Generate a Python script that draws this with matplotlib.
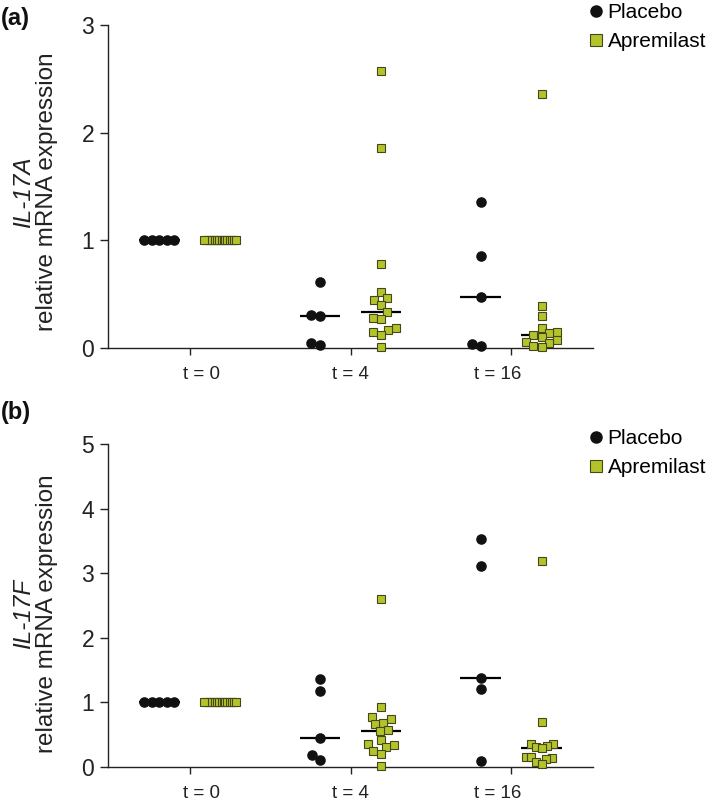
import numpy as np
import matplotlib
matplotlib.use('Agg')
import matplotlib.pyplot as plt
import matplotlib.transforms as mtransforms
from matplotlib.lines import Line2D

plt.rcParams['font.family'] = ['Liberation Sans', 'DejaVu Sans']

groups = ['t = 0', 't = 4', 't = 16']
series = ['Placebo', 'Apremilast']

# Panel (a): IL-17A
a_placebo_t0 = [1.00, 1.00, 1.00, 1.00, 1.00]
a_placebo_t4 = [0.61, 0.31, 0.30, 0.05, 0.03]
a_placebo_t16 = [1.36, 0.85, 0.47, 0.04, 0.02]
a_aprem_t0 = [1.00, 1.00, 1.00, 1.00, 1.00, 1.00, 1.00, 1.00, 1.00, 1.00,
              1.00, 1.00, 1.00, 1.00, 1.00]
a_aprem_t4 = [2.57, 1.86, 0.78, 0.52, 0.46, 0.45, 0.40, 0.33, 0.28, 0.27,
              0.19, 0.17, 0.15, 0.12, 0.01]
a_aprem_t16 = [2.36, 0.39, 0.30, 0.19, 0.15, 0.14, 0.12, 0.10, 0.07, 0.06,
               0.05, 0.02, 0.01]

# Panel (b): IL-17F
b_placebo_t0 = [1.00, 1.00, 1.00, 1.00, 1.00]
b_placebo_t4 = [1.36, 1.17, 0.45, 0.18, 0.11]
b_placebo_t16 = [3.53, 3.11, 1.38, 1.21, 0.10]
b_aprem_t0 = [1.00, 1.00, 1.00, 1.00, 1.00, 1.00, 1.00, 1.00, 1.00, 1.00,
              1.00, 1.00, 1.00, 1.00, 1.00]
b_aprem_t4 = [2.60, 0.93, 0.78, 0.74, 0.68, 0.66, 0.57, 0.55, 0.42, 0.35,
              0.34, 0.31, 0.25, 0.20, 0.02]
b_aprem_t16 = [3.19, 0.69, 0.36, 0.36, 0.33, 0.31, 0.30, 0.16, 0.15, 0.14,
               0.12, 0.08, 0.05]

a_ticks = [0, 1, 2, 3]
b_ticks = [0, 1, 2, 3, 4, 5]

W, H = 709, 810
fig = plt.figure(figsize=(W / 100, H / 100), dpi=100)

GREEN = '#b2c42a'
EDGE = '#46461c'
LABEL_SHIFT_PX = [12, 0, -13]


def px_box(x0, y_top, x1, y_bot):
    return [x0 / W, 1 - y_bot / H, (x1 - x0) / W, (y_bot - y_top) / H]


def swarm(ax, xc, vals, d_px, max_half_px):
    vals = np.asarray(vals, float)
    pts = ax.transData.transform(np.column_stack([np.full(len(vals), xc), vals]))
    ypx = pts[:, 1]
    order = np.argsort(ypx, kind='stable')
    placed = []
    offs = np.zeros(len(vals))
    for i in order:
        y = ypx[i]
        cands = [0.0]
        for xo, yo in placed:
            dy = y - yo
            if abs(dy) < d_px:
                dx = np.sqrt(d_px ** 2 - dy ** 2)
                cands += [xo + dx, xo - dx]
        cands.sort(key=lambda c: (abs(c), c))
        for c in cands:
            if all((c - xo) ** 2 + (y - yo) ** 2 >= d_px ** 2 - 1e-6 for xo, yo in placed):
                offs[i] = c
                break
        placed.append((offs[i], y))
    m = np.max(np.abs(offs))
    if m > max_half_px:
        offs *= max_half_px / m
    pxu = ax.transData.transform((1, 0))[0] - ax.transData.transform((0, 0))[0]
    return xc + offs / pxu


def panel(box, placebo, aprem, ymax, ticks, gene, label, ylab_y, leg_y, lab_y):
    ax = fig.add_axes(box)
    ax.set_xlim(-0.51, 2.51)
    ax.set_ylim(0, ymax)
    for s in ['top', 'right']:
        ax.spines[s].set_visible(False)
    for s in ['left', 'bottom']:
        ax.spines[s].set_linewidth(1.0)
        ax.spines[s].set_color('#222222')
    ax.set_yticks(ticks)
    ax.set_yticklabels([str(t) for t in ticks])
    ax.set_xticks(range(len(groups)))
    ax.set_xticklabels(groups)
    ax.tick_params(axis='y', length=6, width=1.0, labelsize=16.5, pad=4, colors='#222222')
    ax.tick_params(axis='x', length=5, width=1.0, labelsize=13.5, pad=8, colors='#222222')
    for lbl, sh in zip(ax.get_xticklabels(), LABEL_SHIFT_PX):
        lbl.set_transform(lbl.get_transform() +
                          mtransforms.ScaledTranslation(sh / 100, 0, fig.dpi_scale_trans))
    off = 0.19
    half = 0.127
    for gi in range(len(groups)):
        pv = placebo[gi]
        av = aprem[gi]
        xp = swarm(ax, gi - off, pv, 9.0, 15.0)
        xa = swarm(ax, gi + off, av, 8.5, 16.0)
        ax.hlines(np.median(pv), gi - off - half, gi - off + half, color='black', lw=1.6, zorder=2)
        ax.hlines(np.median(av), gi + off - half, gi + off + half, color='black', lw=1.6, zorder=2)
        ax.plot(xp, pv, 'o', ms=6.6, color='#111111', mec='#111111', ls='none', clip_on=False, zorder=3)
        ax.plot(xa, av, 's', ms=6.0, mfc=GREEN, mec=EDGE, mew=0.8, ls='none', clip_on=False, zorder=3)
    # y labels
    fig.text(24 / W, 1 - ylab_y / H, gene, rotation=90, ha='center', va='center',
             fontsize=17.5, style='italic', color='#222222')
    fig.text(47 / W, 1 - ylab_y / H, 'relative mRNA expression', rotation=90, ha='center',
             va='center', fontsize=17.5, color='#222222')
    fig.text(1 / W, 1 - lab_y / H, label, ha='left', va='center', fontsize=17,
             fontweight='bold', color='#111111')
    handles = [Line2D([], [], marker='o', ls='none', color='#111111', ms=8),
               Line2D([], [], marker='s', ls='none', mfc=GREEN, mec=EDGE, mew=0.8, ms=9)]
    ax.legend(handles, series, loc='upper left', bbox_to_anchor=(590 / W, 1 - (leg_y - 10) / H),
              bbox_transform=fig.transFigure, frameon=False, fontsize=15, handlelength=0.6,
              handletextpad=0.25, borderpad=0, borderaxespad=0, labelspacing=0.5)
    return ax


panel(px_box(108, 25, 593, 348),
      [a_placebo_t0, a_placebo_t4, a_placebo_t16],
      [a_aprem_t0, a_aprem_t4, a_aprem_t16],
      3, a_ticks, 'IL-17A', '(a)', 192, 13, 18)
panel(px_box(108, 444, 593, 767),
      [b_placebo_t0, b_placebo_t4, b_placebo_t16],
      [b_aprem_t0, b_aprem_t4, b_aprem_t16],
      5, b_ticks, 'IL-17F', '(b)', 614, 439, 412)

fig.savefig('out.png', dpi=100)
